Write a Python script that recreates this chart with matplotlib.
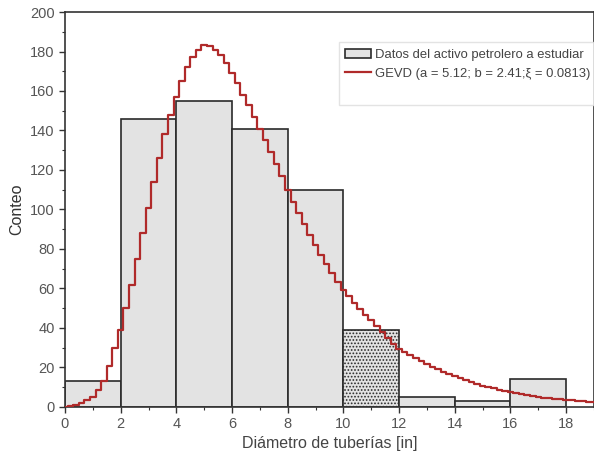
import numpy as np
import matplotlib.pyplot as plt
from matplotlib.ticker import MultipleLocator

plt.rcParams['font.family'] = ['Liberation Sans', 'DejaVu Sans']
plt.rcParams['hatch.color'] = '#c4c4c4'
plt.rcParams['hatch.linewidth'] = 0.8

# Histogram data (bin edges and counts)
bin_left = [0, 2, 4, 6, 8, 10, 12, 14, 16]
bin_width = 2
counts = [13, 146, 155, 141, 110, 39, 5, 3, 14]

# GEVD curve (step of 0.2 in)
curve_x = np.arange(0, 19.01, 0.2)
curve_y = [0.2, 0.5, 1, 2, 3.3, 5, 8.6, 13, 21, 30,
           39, 50, 62, 75, 88, 101, 114, 126, 138, 148,
           157, 165, 172, 177, 181, 183.5, 183, 181, 178, 174,
           169, 164, 158, 153, 147, 141, 135, 129, 123, 117,
           110, 104, 98, 92.5, 87, 82, 77, 72.5, 68, 63.5,
           59, 56, 52.5, 49.5, 46.5, 44, 41, 38, 35, 32,
           29.5, 28, 26.3, 24.8, 23.2, 21.7, 20.4, 19.1, 17.8, 16.6,
           15.5, 14.5, 13.5, 12.5, 11.6, 10.8, 10.1, 9.4, 8.7, 8.1,
           7.5, 7, 6.5, 6.1, 5.6, 5.2, 4.8, 4.5, 4.1, 3.8,
           3.5, 3.3, 3.0, 2.8, 2.5, 2.3]

fig = plt.figure(figsize=(5.94, 4.67), dpi=100)
ax = fig.add_axes([0.1094, 0.1285, 0.8906, 0.8458])

bars = ax.bar(bin_left, counts, width=bin_width, align='edge',
              color='#e3e3e3', edgecolor='#2a2a2a', linewidth=1.2,
              label='Datos del activo petrolero a estudiar', zorder=2)
bars[5].set_hatch('.....')

line, = ax.plot(curve_x, curve_y, drawstyle='steps-mid', color='#b02a2a', lw=1.6,
                label='GEVD (a = 5.12; b = 2.41;ξ = 0.0813)', zorder=3)
blank, = ax.plot([], [], color='none', label=' ')

ax.set_xlim(0, 19)
ax.set_ylim(0, 200)
ax.xaxis.set_major_locator(MultipleLocator(2))
ax.xaxis.set_minor_locator(MultipleLocator(1))
ax.yaxis.set_major_locator(MultipleLocator(20))
ax.yaxis.set_minor_locator(MultipleLocator(10))
ax.tick_params(which='major', direction='out', length=4, width=1, labelsize=10.5,
               colors='#333333', labelcolor='#555555')
ax.tick_params(which='minor', direction='out', length=2, width=0.8, colors='#333333')
for s in ax.spines.values():
    s.set_color('#333333')
    s.set_linewidth(1.2)

ax.set_xlabel('Diámetro de tuberías [in]', fontsize=11.5, color='#444444', labelpad=3)
ax.set_ylabel('Conteo', fontsize=11.5, color='#333333', labelpad=4)

leg = ax.legend(handles=[bars, line, blank], loc='upper left',
                bbox_to_anchor=(0.505, 0.94), fontsize=9.4,
                frameon=True, fancybox=False, edgecolor='#dddddd',
                handlelength=2.0, handletextpad=0.3, borderpad=0.5, labelspacing=0.5)
for t in leg.get_texts():
    t.set_color('#444444')

fig.savefig('out.png', dpi=100)
